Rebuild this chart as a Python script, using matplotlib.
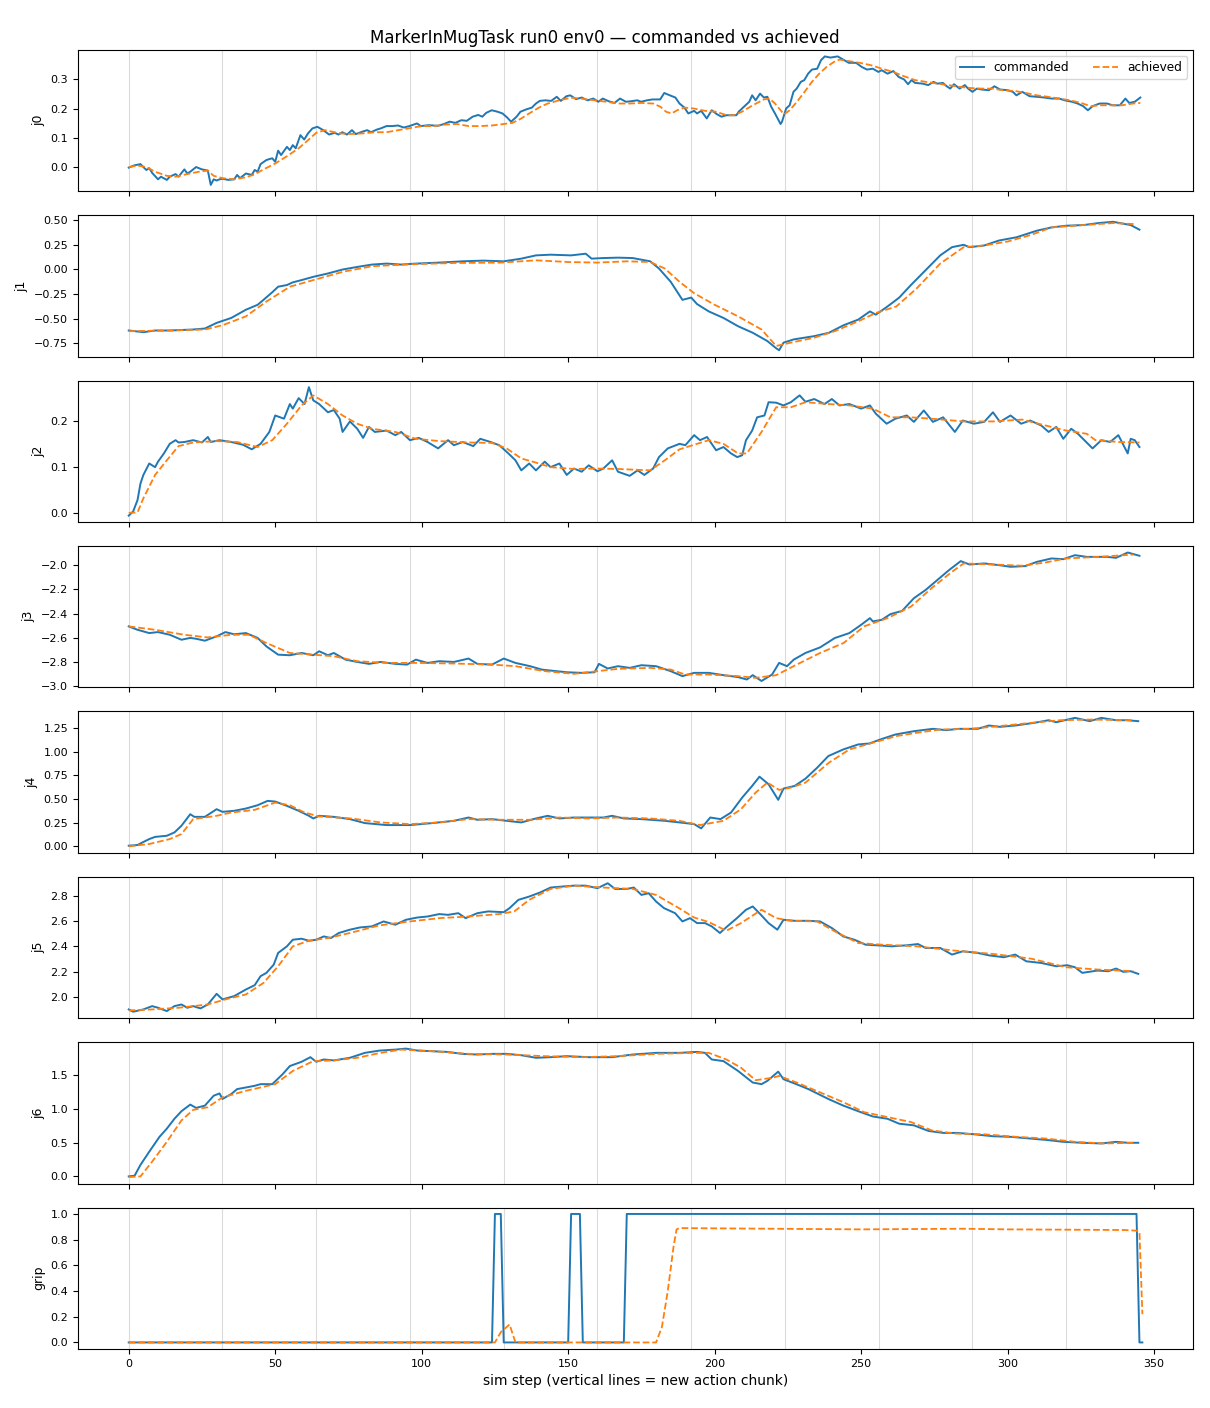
import numpy as np
import matplotlib
matplotlib.use("Agg")
import matplotlib.pyplot as plt

# (sim step, value)
j0_cmd = [(0, -0.002), (2, 0.006), (4, 0.01), (6, -0.01), (7, -0.004), (8, -0.02), (10, -0.042), (11, -0.033),
          (13, -0.044), (14, -0.033), (16, -0.024), (17, -0.033), (19, -0.008), (20, -0.022), (21, -0.016),
          (23, 0.0), (25, -0.008), (27, -0.012), (28, -0.061), (29, -0.042), (30, -0.046), (31, -0.042),
          (32, -0.04), (34, -0.044), (36, -0.042), (37, -0.027), (38, -0.038), (40, -0.022), (42, -0.027),
          (43, -0.01), (44, -0.016), (45, 0.01), (47, 0.024), (49, 0.03), (50, 0.018), (51, 0.056), (52, 0.041),
          (54, 0.069), (55, 0.058), (56, 0.075), (57, 0.064), (58.6, 0.109), (59.9, 0.094), (61.2, 0.115),
          (62.7, 0.132), (64.4, 0.1375), (66.4, 0.126), (68.4, 0.111), (70.3, 0.117), (71.6, 0.111),
          (72.9, 0.119), (74.5, 0.111), (76.2, 0.126), (77.5, 0.1125), (79.5, 0.12), (81.4, 0.126),
          (82.7, 0.119), (84.7, 0.128), (86, 0.132), (88, 0.14), (90, 0.14), (91.9, 0.142), (93.9, 0.135),
          (95.8, 0.14), (98.4, 0.149), (99.7, 0.14), (102.4, 0.143), (105.6, 0.141), (107.6, 0.147),
          (109.5, 0.155), (111.5, 0.151), (113.5, 0.16), (115.4, 0.158), (117.4, 0.172), (119.3, 0.178),
          (120.7, 0.172), (122, 0.185), (123.9, 0.194), (125.9, 0.189), (127.6, 0.183), (129.2, 0.169),
          (130.5, 0.155), (132.4, 0.172), (133.7, 0.189), (135.7, 0.197), (137.6, 0.203), (139, 0.217),
          (140.3, 0.226), (142.2, 0.228), (144.2, 0.226), (146.1, 0.24), (147.5, 0.226), (149.4, 0.242),
          (150.7, 0.245), (152.7, 0.232), (154.6, 0.2375), (156.6, 0.228), (158.6, 0.234), (160.3, 0.223),
          (161.8, 0.234), (163.8, 0.225), (165.8, 0.219), (167.7, 0.234), (169.7, 0.223), (171.6, 0.225),
          (173.6, 0.228), (174.9, 0.223), (176.9, 0.228), (178.8, 0.231), (181.4, 0.231), (182.8, 0.253),
          (184.7, 0.245), (186.6, 0.2375), (188, 0.217), (189.7, 0.203), (191, 0.183), (193, 0.192),
          (194, 0.183), (195.4, 0.192), (197.3, 0.166), (199, 0.194), (200.7, 0.181), (202.3, 0.172),
          (204, 0.177), (205.5, 0.177), (207.4, 0.177), (208.2, 0.189), (210, 0.206), (211.8, 0.223),
          (212.8, 0.245), (214, 0.228), (215.5, 0.251), (216.8, 0.2375), (218, 0.24), (219.3, 0.206),
          (220.6, 0.183), (222.5, 0.147), (223, 0.155), (224.4, 0.2), (225.6, 0.211), (226.9, 0.257),
          (228, 0.268), (229.4, 0.291), (230.6, 0.297), (231.9, 0.319), (233.2, 0.333), (235, 0.336),
          (236.3, 0.365), (237.6, 0.378), (239.5, 0.374), (240.7, 0.376), (242, 0.378), (243.9, 0.367),
          (245.8, 0.356), (248.3, 0.356), (250.2, 0.342), (252, 0.333), (254, 0.336), (255.9, 0.325),
          (257, 0.331), (259, 0.319), (261, 0.328), (262.8, 0.308), (264.7, 0.299), (266, 0.283),
          (267.2, 0.297), (268.4, 0.2875), (271, 0.285), (272.9, 0.28), (274.7, 0.291), (276, 0.285),
          (277.9, 0.2875), (279.2, 0.276), (280.4, 0.268), (281.7, 0.283), (283.6, 0.268), (285.4, 0.28),
          (286.5, 0.268), (288, 0.257), (289.5, 0.268), (291, 0.265), (293.6, 0.2625), (295.5, 0.276),
          (297.4, 0.265), (300, 0.2625), (301.8, 0.257), (303, 0.245), (305, 0.257), (307.5, 0.242),
          (310, 0.24), (312.5, 0.2375), (315, 0.234), (317.6, 0.234), (319.5, 0.228), (322, 0.223),
          (323.9, 0.217), (325.8, 0.208), (327.4, 0.194), (329, 0.208), (331.4, 0.217), (334, 0.217),
          (335.8, 0.211), (338.3, 0.211), (340.2, 0.234), (341.5, 0.219), (343.4, 0.223), (345.3, 0.2375)]
j0_ach = [(0, 0.0), (3, 0.005), (6, 0.0), (9, -0.016), (13, -0.03), (16, -0.033), (20, -0.024), (24, -0.016),
          (27, -0.012), (29, -0.03), (32, -0.038), (36, -0.042), (40, -0.035), (43, -0.025), (46, -0.008),
          (50, 0.012), (54, 0.037), (58, 0.064), (61, 0.09), (64, 0.117), (67, 0.126), (72, 0.115), (76, 0.113),
          (80, 0.115), (84, 0.119), (88, 0.119), (92, 0.126), (96, 0.133), (100, 0.14), (104, 0.14),
          (108, 0.145), (112, 0.147), (116, 0.14), (120, 0.14), (124, 0.142), (128, 0.147), (131, 0.151),
          (134, 0.166), (137, 0.185), (140, 0.203), (143, 0.217), (147, 0.228), (151, 0.237), (155, 0.233),
          (159, 0.228), (163, 0.223), (167, 0.217), (171, 0.217), (175, 0.219), (179, 0.217), (181.5, 0.206),
          (183.4, 0.189), (185.3, 0.183), (187.2, 0.194), (189.7, 0.203), (192.9, 0.2), (196.7, 0.192),
          (200.4, 0.189), (204.2, 0.177), (206.7, 0.177), (209.3, 0.189), (213, 0.211), (216.8, 0.231),
          (218.7, 0.234), (220.6, 0.217), (222.5, 0.194), (223.7, 0.18), (225.6, 0.194), (228.1, 0.223),
          (230.7, 0.257), (233.2, 0.291), (235.7, 0.319), (238.2, 0.342), (240.7, 0.359), (242.6, 0.367),
          (245.8, 0.362), (249.6, 0.356), (253.3, 0.348), (257.1, 0.336), (260.9, 0.325), (264.7, 0.31),
          (268.4, 0.297), (272.2, 0.291), (276, 0.285), (279.8, 0.28), (283.6, 0.274), (287.3, 0.27),
          (291.1, 0.268), (294.9, 0.268), (298.7, 0.262), (302.5, 0.26), (306.2, 0.253), (310, 0.245),
          (313.8, 0.24), (317.6, 0.234), (321.3, 0.228), (325.1, 0.219), (328.3, 0.208), (331.4, 0.211),
          (335.2, 0.211), (339, 0.211), (342.8, 0.217), (345.3, 0.219)]

j1_cmd = [(0, -0.62), (5, -0.637), (9, -0.62), (14, -0.62), (22, -0.61), (26, -0.60), (30, -0.543), (35, -0.493),
          (40, -0.41), (44, -0.36), (46, -0.31), (49, -0.233), (51, -0.177), (54, -0.16), (56, -0.133),
          (59, -0.11), (63, -0.077), (68, -0.043), (73, -0.003), (78, 0.023), (83, 0.047), (88, 0.057),
          (93, 0.047), (98, 0.057), (106, 0.067), (114, 0.08), (121, 0.087), (128, 0.08), (134, 0.107),
          (139, 0.14), (144, 0.147), (151, 0.14), (156, 0.157), (158, 0.107), (162, 0.113), (167, 0.117),
          (172, 0.113), (178, 0.08), (181, 0.007), (185, -0.127), (189, -0.31), (192, -0.287), (194, -0.353),
          (198, -0.427), (203, -0.493), (208, -0.577), (213, -0.643), (218, -0.727), (221, -0.80), (222, -0.82),
          (223.5, -0.743), (227, -0.71), (234, -0.677), (239, -0.643), (244, -0.567), (249, -0.51),
          (253, -0.427), (255, -0.46), (259, -0.377), (263, -0.287), (267, -0.16), (272, -0.01), (277, 0.14),
          (281, 0.223), (285, 0.247), (287, 0.223), (292, 0.24), (297, 0.29), (303, 0.323), (310, 0.39),
          (315, 0.423), (320, 0.44), (326, 0.447), (331, 0.467), (336, 0.48), (339, 0.463), (342, 0.447),
          (345, 0.40)]
j1_ach = [(0, -0.627), (14, -0.62), (26, -0.61), (32, -0.567), (40, -0.477), (47, -0.327), (55, -0.177),
          (63, -0.11), (73, -0.027), (83, 0.03), (96, 0.05), (111, 0.063), (127, 0.067), (139, 0.09),
          (150, 0.073), (160, 0.067), (170, 0.08), (178, 0.073), (183, 0.007), (188, -0.127), (193, -0.243),
          (200, -0.36), (208, -0.477), (216, -0.61), (221, -0.777), (226, -0.743), (234, -0.693),
          (241, -0.627), (249, -0.527), (255, -0.443), (262, -0.377), (269, -0.193), (277, 0.057),
          (285, 0.223), (292, 0.24), (300, 0.28), (308, 0.347), (315, 0.423), (326, 0.447), (336, 0.467),
          (343, 0.457)]

j2_cmd = [(0, -0.006), (1.5, 0.003), (3, 0.028), (4, 0.064), (5, 0.083), (7, 0.108), (9, 0.1), (10, 0.112),
          (12, 0.13), (14, 0.151), (16, 0.159), (17, 0.154), (19, 0.155), (22, 0.159), (25, 0.154), (27, 0.166),
          (28, 0.155), (31, 0.159), (35, 0.155), (39, 0.149), (42, 0.139), (45, 0.151), (48, 0.177),
          (50, 0.213), (53, 0.206), (55, 0.238), (56, 0.228), (58, 0.251), (60, 0.238), (61.5, 0.275),
          (63, 0.246), (65, 0.238), (68, 0.22), (70, 0.225), (72, 0.206), (73, 0.177), (75.5, 0.2), (78, 0.184),
          (80, 0.164), (82, 0.188), (84, 0.177), (88, 0.18), (91, 0.17), (93, 0.177), (96, 0.159), (99, 0.164),
          (102, 0.155), (105.6, 0.141), (109, 0.159), (111, 0.148), (114, 0.155), (117.6, 0.146), (120, 0.162),
          (123.5, 0.155), (126.5, 0.148), (129.6, 0.13), (132, 0.115), (134, 0.093), (136.7, 0.108),
          (139, 0.093), (142, 0.112), (144, 0.1), (147, 0.108), (149.5, 0.083), (152, 0.097), (154.6, 0.09),
          (157, 0.104), (160, 0.091), (162, 0.097), (165, 0.115), (167, 0.09), (171, 0.081), (173.7, 0.093),
          (176, 0.083), (179, 0.097), (181, 0.122), (184, 0.141), (188, 0.151), (190, 0.148), (193, 0.17),
          (195, 0.159), (197.4, 0.166), (200.5, 0.137), (203, 0.144), (205.6, 0.13), (207.7, 0.122),
          (209.4, 0.126), (210.7, 0.159), (212.8, 0.18), (214.5, 0.209), (217, 0.213), (218.4, 0.242),
          (221, 0.241), (223.5, 0.235), (226, 0.242), (229, 0.257), (231, 0.243), (234, 0.249), (237.5, 0.238),
          (240, 0.249), (242.6, 0.235), (246, 0.238), (250, 0.228), (253, 0.235), (255, 0.217), (258.7, 0.195),
          (261.7, 0.206), (265.6, 0.213), (268, 0.199), (271.4, 0.224), (274.5, 0.199), (278, 0.209),
          (282, 0.177), (284.7, 0.202), (288.5, 0.195), (292, 0.199), (295, 0.22), (297.4, 0.199),
          (301, 0.213), (304.6, 0.195), (307.7, 0.202), (311.5, 0.191), (314, 0.177), (316.6, 0.188),
          (319, 0.162), (321.7, 0.184), (324, 0.173), (329, 0.141), (332, 0.159), (335, 0.155), (337.8, 0.17),
          (341, 0.13), (342, 0.162), (343.4, 0.159), (345, 0.144)]
j2_ach = [(0, 0.0), (3, 0.001), (5, 0.032), (9, 0.083), (13, 0.115), (17, 0.146), (22, 0.154), (30, 0.157),
          (37, 0.155), (44, 0.144), (49, 0.159), (54, 0.195), (59, 0.235), (63, 0.257), (68, 0.238),
          (73, 0.213), (78, 0.195), (83, 0.184), (91, 0.177), (98, 0.162), (106, 0.157), (116, 0.154),
          (124, 0.153), (129, 0.141), (134, 0.119), (139, 0.11), (144, 0.1), (152, 0.096), (160, 0.097),
          (167, 0.096), (178, 0.093), (183, 0.115), (188, 0.139), (193, 0.149), (198, 0.159), (203, 0.151),
          (208, 0.13), (211, 0.13), (216, 0.177), (221, 0.231), (226, 0.231), (231, 0.242), (239, 0.238),
          (246, 0.235), (254, 0.228), (260, 0.209), (267, 0.209), (274, 0.206), (285, 0.2), (295, 0.2),
          (305, 0.204), (313, 0.191), (320, 0.18), (327, 0.173), (330, 0.159), (338, 0.155), (345, 0.154)]

j3_cmd = [(0, -2.505), (3, -2.533), (7, -2.56), (10, -2.552), (14, -2.574), (18, -2.615), (21, -2.60),
          (23, -2.607), (26, -2.623), (30, -2.587), (33, -2.552), (36, -2.57), (40, -2.56), (44, -2.60),
          (47, -2.67), (51, -2.738), (55, -2.743), (59, -2.724), (63, -2.743), (65, -2.71), (68, -2.743),
          (70, -2.724), (74, -2.779), (78, -2.798), (82, -2.814), (86, -2.798), (91, -2.814), (95, -2.82),
          (98, -2.779), (102, -2.806), (106, -2.792), (111, -2.798), (116, -2.77), (119, -2.814), (124, -2.82),
          (128, -2.77), (132, -2.806), (137, -2.833), (141, -2.861), (144, -2.869), (149.5, -2.883),
          (154.6, -2.888), (159, -2.883), (160.5, -2.814), (163.5, -2.852), (167, -2.833), (171, -2.847),
          (175, -2.825), (180, -2.833), (185, -2.874), (189, -2.915), (193, -2.888), (198, -2.888),
          (203, -2.907), (208, -2.923), (211, -2.943), (213, -2.907), (216, -2.955), (219.6, -2.902),
          (222, -2.806), (224.7, -2.833), (227, -2.779), (231, -2.724), (236, -2.678), (241, -2.601),
          (246, -2.56), (250, -2.492), (253, -2.437), (254, -2.464), (257, -2.451), (260, -2.404),
          (264, -2.377), (268, -2.273), (272, -2.205), (276, -2.123), (280, -2.041), (284, -1.967),
          (287, -1.995), (292, -1.986), (297, -2.0), (301, -2.014), (306, -2.008), (310, -1.973),
          (315, -1.945), (319, -1.951), (323, -1.918), (327, -1.932), (331, -1.932), (334, -1.932),
          (337, -1.94), (341, -1.896), (345, -1.923)]
j3_ach = [(0, -2.505), (9, -2.533), (19, -2.574), (27, -2.596), (35, -2.574), (41, -2.574), (47, -2.642),
          (55, -2.724), (63, -2.738), (70, -2.751), (78, -2.792), (88, -2.806), (98, -2.806), (111, -2.811),
          (124, -2.82), (132, -2.833), (142, -2.874), (152, -2.896), (160, -2.874), (167, -2.855),
          (178, -2.847), (185, -2.861), (190, -2.902), (198, -2.902), (208, -2.915), (214, -2.929),
          (221, -2.907), (228, -2.82), (236, -2.724), (244, -2.642), (251, -2.505), (259, -2.437),
          (267, -2.342), (274, -2.191), (281, -2.055), (285, -1.986), (295, -1.995), (305, -2.005),
          (313, -1.978), (320, -1.945), (331, -1.932), (343, -1.913)]

j4_cmd = [(0, 0.007), (3, 0.014), (4.6, 0.04), (7, 0.077), (9, 0.10), (13, 0.112), (15.6, 0.147), (18, 0.218),
          (21, 0.34), (22.4, 0.312), (26, 0.312), (30, 0.393), (32, 0.365), (36, 0.376), (40, 0.40), (44, 0.435),
          (47.4, 0.481), (50, 0.474), (54, 0.428), (58, 0.376), (61.5, 0.323), (63, 0.295), (65, 0.323),
          (70, 0.312), (75.5, 0.288), (80.6, 0.246), (88, 0.225), (96, 0.225), (103.6, 0.246), (111, 0.27),
          (116, 0.305), (119, 0.281), (124, 0.288), (129, 0.27), (134, 0.253), (139, 0.295), (143, 0.323),
          (147, 0.295), (152, 0.305), (157, 0.305), (162, 0.305), (165, 0.323), (169, 0.295), (175, 0.288),
          (183, 0.27), (188, 0.253), (193, 0.235), (195.4, 0.19), (198.5, 0.305), (202, 0.288), (205.6, 0.358),
          (209.4, 0.516), (212.8, 0.639), (215.3, 0.737), (218.4, 0.657), (221.7, 0.492), (223.5, 0.611),
          (227.3, 0.639), (231, 0.716), (235, 0.832), (238.8, 0.955), (243.9, 1.025), (249, 1.078),
          (252.8, 1.088), (256.6, 1.131), (261.7, 1.183), (268, 1.218), (274.5, 1.243), (279, 1.229),
          (283.4, 1.243), (289.8, 1.243), (293.6, 1.278), (297.4, 1.264), (302.6, 1.278), (309, 1.306),
          (314, 1.334), (316.6, 1.313), (323, 1.359), (328, 1.324), (332, 1.359), (337, 1.334), (340.8, 1.334),
          (344.6, 1.324)]
j4_ach = [(0, 0.0), (7, 0.025), (14, 0.077), (18, 0.13), (22, 0.288), (30, 0.323), (35, 0.358), (43, 0.386),
          (50, 0.463), (55, 0.435), (60, 0.358), (65, 0.316), (76, 0.295), (86, 0.253), (96, 0.235),
          (106, 0.253), (116, 0.288), (127, 0.281), (137, 0.281), (147, 0.305), (157, 0.295), (167, 0.305),
          (178, 0.295), (188, 0.27), (195, 0.225), (203, 0.27), (209, 0.393), (214, 0.569), (218, 0.674),
          (222, 0.597), (226, 0.621), (231, 0.674), (239, 0.885), (246, 1.025), (254, 1.096), (262, 1.166),
          (269, 1.201), (277, 1.236), (287, 1.243), (297, 1.271), (308, 1.306), (318, 1.334), (328, 1.341),
          (343, 1.334)]

j5_cmd = [(0, 1.903), (1.5, 1.885), (5, 1.903), (8, 1.929), (10, 1.916), (13, 1.89), (15.6, 1.929), (18, 1.942),
          (20, 1.916), (22, 1.929), (24.5, 1.911), (27, 1.942), (30, 2.026), (32, 1.982), (36, 2.008),
          (40, 2.06), (43, 2.094), (45, 2.165), (47, 2.191), (49.5, 2.256), (51, 2.348), (54, 2.40),
          (56, 2.452), (59, 2.46), (61.5, 2.444), (64, 2.452), (66.6, 2.478), (69, 2.465), (71.7, 2.505),
          (75.5, 2.531), (79, 2.549), (83, 2.557), (87, 2.596), (91, 2.57), (94.6, 2.609), (98.5, 2.627),
          (102, 2.635), (106, 2.654), (109, 2.648), (112.5, 2.661), (115, 2.622), (119, 2.661), (122.7, 2.675),
          (128, 2.669), (130, 2.701), (133, 2.766), (136.7, 2.792), (140.6, 2.826), (144, 2.863), (148, 2.871),
          (152, 2.878), (156, 2.878), (160, 2.858), (163.5, 2.897), (166, 2.852), (170, 2.852), (172.4, 2.863),
          (175, 2.805), (177.5, 2.818), (180, 2.753), (182.7, 2.701), (186.5, 2.661), (189, 2.596),
          (191.6, 2.622), (194, 2.583), (196.7, 2.583), (199, 2.557), (201.8, 2.505), (204.3, 2.557),
          (207.6, 2.622), (210.7, 2.688), (213, 2.714), (215.8, 2.648), (218.4, 2.583), (221.4, 2.531),
          (223.5, 2.609), (227.3, 2.601), (232, 2.601), (236, 2.596), (240, 2.544), (243.9, 2.478),
          (247.7, 2.452), (251.5, 2.413), (255.4, 2.408), (260.5, 2.40), (265.6, 2.408), (269.4, 2.418),
          (272, 2.387), (277, 2.387), (281, 2.335), (284.7, 2.361), (289.8, 2.348), (293.6, 2.329),
          (298.7, 2.314), (302.6, 2.335), (306.4, 2.282), (311.5, 2.269), (316.6, 2.243), (320.4, 2.251),
          (323, 2.235), (325.5, 2.191), (330.6, 2.209), (334.4, 2.204), (337, 2.225), (339.5, 2.199),
          (342, 2.204), (344.6, 2.183)]
j5_ach = [(0, 1.895), (8, 1.903), (17, 1.916), (27, 1.942), (33, 1.982), (40, 2.021), (46, 2.112), (51, 2.243),
          (56, 2.40), (61.5, 2.444), (68, 2.465), (75.5, 2.505), (85.6, 2.565), (96, 2.596), (106, 2.622),
          (116, 2.635), (126.5, 2.654), (131.6, 2.675), (136.7, 2.766), (144, 2.852), (152, 2.878),
          (162, 2.863), (172, 2.852), (180, 2.805), (187.8, 2.701), (193, 2.627), (198, 2.591), (204, 2.523),
          (209, 2.583), (216, 2.688), (221, 2.622), (226, 2.601), (235, 2.596), (241, 2.518), (249, 2.426),
          (257, 2.413), (269, 2.40), (282, 2.366), (295, 2.34), (308, 2.303), (320, 2.235), (331, 2.217),
          (343, 2.204)]

j6_cmd = [(0, 0.0), (2, 0.01), (4, 0.17), (7, 0.365), (10.5, 0.585), (13, 0.706), (15.6, 0.852), (18, 0.964),
          (21, 1.062), (23, 1.013), (26, 1.047), (29, 1.193), (31, 1.227), (32, 1.145), (35, 1.218), (37, 1.291),
          (40, 1.315), (43, 1.34), (45, 1.364), (49, 1.364), (52.5, 1.51), (55, 1.632), (59, 1.695), (62, 1.763),
          (64, 1.695), (66.6, 1.729), (70, 1.715), (75.5, 1.754), (80.6, 1.827), (85.7, 1.861), (91, 1.875),
          (94.6, 1.89), (98.5, 1.861), (103.6, 1.851), (108.7, 1.841), (113.8, 1.812), (119, 1.802),
          (124, 1.812), (129, 1.812), (134, 1.792), (139, 1.754), (144, 1.763), (149.5, 1.778), (157, 1.763),
          (165, 1.763), (172, 1.802), (180, 1.827), (188, 1.827), (194, 1.841), (196.7, 1.827), (199, 1.729),
          (203, 1.705), (208, 1.559), (213, 1.388), (216, 1.364), (218, 1.413), (221.7, 1.549), (223.5, 1.437),
          (227.3, 1.374), (232, 1.291), (238.8, 1.145), (243.9, 1.047), (249, 0.964), (254, 0.886),
          (259, 0.852), (263, 0.779), (268, 0.755), (273, 0.672), (278, 0.643), (283, 0.643), (288.5, 0.623),
          (295, 0.594), (301, 0.585), (307.7, 0.56), (314, 0.536), (319, 0.511), (325.5, 0.497), (332, 0.487),
          (337, 0.511), (341, 0.497), (344.6, 0.497)]
j6_ach = [(0, -0.01), (4, 0.0), (8, 0.219), (13, 0.511), (18, 0.828), (22, 0.984), (27, 1.023), (32, 1.169),
          (40, 1.266), (50, 1.364), (56, 1.559), (63, 1.705), (70, 1.715), (78, 1.754), (86, 1.827),
          (93, 1.875), (104, 1.851), (116, 1.812), (129, 1.802), (142, 1.778), (155, 1.763), (167, 1.778),
          (180, 1.812), (193, 1.827), (198, 1.827), (204, 1.729), (209, 1.607), (214, 1.422), (220, 1.461),
          (222, 1.486), (228, 1.388), (236, 1.242), (244, 1.096), (251, 0.95), (259, 0.877), (267, 0.804),
          (274, 0.682), (282, 0.633), (292, 0.623), (303, 0.585), (313, 0.56), (323, 0.511), (333, 0.487),
          (343, 0.497)]

grip_cmd = [(0, 0), (124, 0), (125, 1), (127, 1), (128, 0), (150, 0), (151, 1), (154, 1), (155, 0), (169, 0),
            (170, 1), (344, 1), (345, 0), (346, 0)]
grip_ach = [(0, 0), (125, 0), (127, 0.08), (130, 0.14), (132, 0.0), (180, 0.0), (182, 0.12), (184, 0.4),
            (186, 0.75), (187, 0.88), (188, 0.89), (250, 0.88), (285, 0.885), (300, 0.88), (340, 0.875),
            (344, 0.87), (345, 0.86), (346, 0.22)]

panels = [("j0", j0_cmd, j0_ach), ("j1", j1_cmd, j1_ach), ("j2", j2_cmd, j2_ach), ("j3", j3_cmd, j3_ach),
          ("j4", j4_cmd, j4_ach), ("j5", j5_cmd, j5_ach), ("j6", j6_cmd, j6_ach), ("grip", grip_cmd, grip_ach)]
chunk_len = 32
n_steps = 347

fig, axes = plt.subplots(len(panels), 1, figsize=(12.1, 14.08), dpi=100, sharex=True)
fig.subplots_adjust(left=0.0645, right=0.986, top=0.9645, bottom=0.042, hspace=0.17)

for ax, (name, cmd, ach) in zip(axes, panels):
    # action chunk boundaries
    for s in range(0, n_steps, chunk_len):
        ax.axvline(s, color="0.8", lw=0.8, alpha=0.7, zorder=0)
    cx, cy = zip(*cmd)
    axx, ayy = zip(*ach)
    ax.plot(cx, cy, color="C0", lw=1.4, label="commanded")
    ax.plot(axx, ayy, color="C1", lw=1.3, ls="--", label="achieved")
    ax.set_ylabel(name, fontsize=9)
    ax.tick_params(labelsize=8)

axes[0].legend(loc="upper right", ncol=2, fontsize=8.7)
axes[-1].set_xticks(np.arange(0, 351, 50))
axes[-1].set_xlabel("sim step (vertical lines = new action chunk)", fontsize=10)
fig.suptitle("MarkerInMugTask run0 env0 — commanded vs achieved", fontsize=12, y=0.9795)

fig.savefig("out.png", dpi=100)
